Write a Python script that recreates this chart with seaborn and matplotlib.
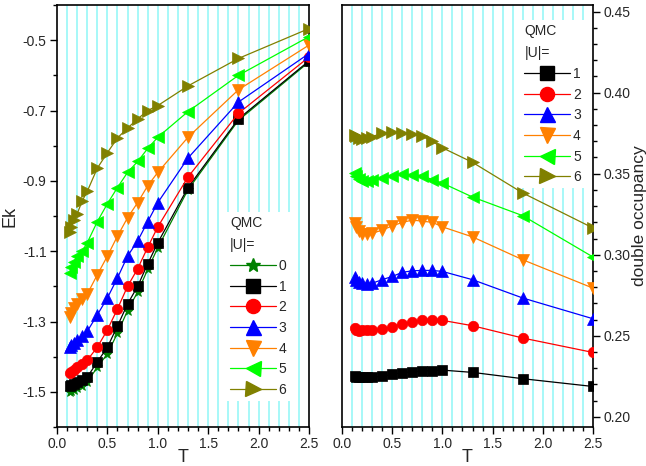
import numpy as np
import pandas as pd
import seaborn as sns
import matplotlib
matplotlib.use('Agg')
import matplotlib.pyplot as plt
from matplotlib.lines import Line2D
from matplotlib.ticker import MultipleLocator, FormatStrFormatter

# temperatures (same grid for every curve)
temps = [0.125, 0.143, 0.167, 0.2, 0.25, 0.3, 0.4, 0.5, 0.6, 0.7, 0.8, 0.9, 1.0, 1.3, 1.8, 2.5]

# kinetic energy, left panel
ek_u0 = [-1.500, -1.498, -1.495, -1.490, -1.482, -1.472, -1.430, -1.392, -1.333, -1.269, -1.216, -1.152, -1.090, -0.925, -0.728, -0.562]
ek_u1 = [-1.483, -1.481, -1.478, -1.472, -1.465, -1.458, -1.415, -1.373, -1.313, -1.250, -1.200, -1.136, -1.076, -0.919, -0.724, -0.559]
ek_u2 = [-1.447, -1.443, -1.437, -1.430, -1.420, -1.410, -1.373, -1.324, -1.264, -1.200, -1.150, -1.089, -1.031, -0.889, -0.708, -0.548]
ek_u3 = [-1.372, -1.366, -1.360, -1.352, -1.340, -1.328, -1.281, -1.233, -1.176, -1.114, -1.071, -1.016, -0.962, -0.835, -0.676, -0.538]
ek_u4 = [-1.286, -1.275, -1.262, -1.250, -1.235, -1.222, -1.167, -1.114, -1.057, -1.005, -0.962, -0.914, -0.876, -0.776, -0.641, -0.514]
ek_u5 = [-1.162, -1.145, -1.130, -1.114, -1.100, -1.076, -1.016, -0.965, -0.919, -0.876, -0.845, -0.808, -0.776, -0.703, -0.600, -0.490]
ek_u6 = [-1.046, -1.030, -1.010, -0.994, -0.957, -0.930, -0.864, -0.820, -0.778, -0.750, -0.724, -0.700, -0.686, -0.630, -0.552, -0.467]

# double occupancy, right panel
do_u1 = [0.2249, 0.2246, 0.2245, 0.2245, 0.2245, 0.2246, 0.2249, 0.2263, 0.2272, 0.2278, 0.2282, 0.2285, 0.2288, 0.2274, 0.2235, 0.2187]
do_u2 = [0.2545, 0.2537, 0.2532, 0.2533, 0.2535, 0.2533, 0.2541, 0.2557, 0.2574, 0.2588, 0.2595, 0.2597, 0.2595, 0.2562, 0.2486, 0.2397]
do_u3 = [0.2860, 0.2842, 0.2829, 0.2825, 0.2822, 0.2824, 0.2846, 0.2866, 0.2891, 0.2901, 0.2903, 0.2903, 0.2897, 0.2846, 0.2733, 0.2605]
do_u4 = [0.3195, 0.3170, 0.3148, 0.3130, 0.3125, 0.3132, 0.3152, 0.3178, 0.3199, 0.3214, 0.3207, 0.3200, 0.3172, 0.3110, 0.2969, 0.2794]
do_u5 = [0.3505, 0.3485, 0.3465, 0.3458, 0.3455, 0.3460, 0.3473, 0.3488, 0.3498, 0.3494, 0.3488, 0.3463, 0.3442, 0.3356, 0.3241, 0.2986]
do_u6 = [0.3740, 0.3730, 0.3720, 0.3714, 0.3720, 0.3728, 0.3751, 0.3755, 0.3751, 0.3745, 0.3730, 0.3700, 0.3660, 0.3570, 0.3381, 0.3165]

u_labels = ['0', '1', '2', '3', '4', '5', '6']
colors = ['#008000', '#000000', '#FF0000', '#0000FF', '#FF8000', '#00FF00', '#808000']
markers = ['*', 's', 'o', '^', 'v', '<', '>']
msizes = [8, 7, 7.5, 8, 8, 8, 8]
grid_x = np.round(np.arange(0.1, 2.45, 0.1), 1)

sns.set_style('white')
plt.rcParams['font.family'] = ['Liberation Sans', 'DejaVu Sans']

fig = plt.figure(figsize=(6.46, 4.66), dpi=100)
ax1 = fig.add_axes([57 / 646, 39 / 466, 252 / 646, 422 / 466])
ax2 = fig.add_axes([342 / 646, 39 / 466, 251 / 646, 422 / 466])


def draw(ax, series, labels):
    for x in grid_x:
        ax.axvline(x, color='#8FF7F7', lw=1.1, zorder=0)
    handles = []
    for ys, lab in zip(series, labels):
        i = u_labels.index(lab)
        df = pd.DataFrame({'T': temps, 'y': ys})
        sns.lineplot(data=df, x='T', y='y', ax=ax, color=colors[i], lw=0.9,
                     marker=markers[i], markersize=msizes[i],
                     markeredgecolor=colors[i], markeredgewidth=0.5,
                     sort=False, zorder=3)
        handles.append(Line2D([], [], color=colors[i], lw=0.9, marker=markers[i],
                              markersize=msizes[i] * 1.35, markeredgecolor=colors[i]))
    return handles


def style(ax):
    ax.set_xlim(0, 2.5)
    ax.xaxis.set_major_locator(MultipleLocator(0.5))
    ax.xaxis.set_minor_locator(MultipleLocator(0.1))
    ax.xaxis.set_major_formatter(FormatStrFormatter('%.1f'))
    ax.set_xlabel('T', fontsize=13, labelpad=-1.5)
    for s in ax.spines.values():
        s.set_color('black')
        s.set_linewidth(1.2)
    ax.tick_params(axis='both', which='major', direction='out', length=5, width=1,
                   labelsize=10, color='black', pad=2.5)
    ax.tick_params(axis='both', which='minor', direction='out', length=3, width=1, color='black')
    ax.tick_params(axis='x', which='both', bottom=True, top=False)


def add_legend(ax, handles, labels, anchor):
    leg = ax.legend(handles, labels, title='QMC\n|U|=', loc='upper left',
                    bbox_to_anchor=anchor, frameon=True, framealpha=1,
                    edgecolor='white', fontsize=10, title_fontsize=10,
                    handlelength=3.3, handletextpad=0.2, labelspacing=0.48,
                    borderpad=0.3, borderaxespad=0, alignment='left', fancybox=False)
    leg.get_frame().set_linewidth(0)
    leg.get_title().set_linespacing(1.75)
    return leg


# left panel: kinetic energy
h1 = draw(ax1, [ek_u0, ek_u1, ek_u2, ek_u3, ek_u4, ek_u5, ek_u6], u_labels)
style(ax1)
ax1.set_ylim(-1.6, -0.4)
ax1.yaxis.set_minor_locator(MultipleLocator(0.1))
ax1.set_yticks(np.round(np.arange(-1.5, -0.45, 0.2), 1))
ax1.yaxis.set_major_formatter(FormatStrFormatter('%.1f'))
ax1.tick_params(axis='y', which='both', left=True, right=False)
ax1.set_ylabel('Ek', fontsize=13, labelpad=3)
add_legend(ax1, h1, u_labels, (0.67, 0.51))

# right panel: double occupancy
h2 = draw(ax2, [do_u1, do_u2, do_u3, do_u4, do_u5, do_u6], u_labels[1:])
style(ax2)
ax2.set_ylim(0.1937, 0.4541)
ax2.yaxis.set_major_locator(MultipleLocator(0.05))
ax2.yaxis.set_minor_locator(MultipleLocator(0.01))
ax2.yaxis.set_major_formatter(FormatStrFormatter('%.2f'))
ax2.yaxis.tick_right()
ax2.yaxis.set_label_position('right')
ax2.tick_params(axis='y', which='both', left=False, right=True)
ax2.set_ylabel('double occupancy', fontsize=12.5, labelpad=1)
add_legend(ax2, h2, u_labels[1:], (0.71, 0.965))

fig.savefig('out.png', dpi=100)
